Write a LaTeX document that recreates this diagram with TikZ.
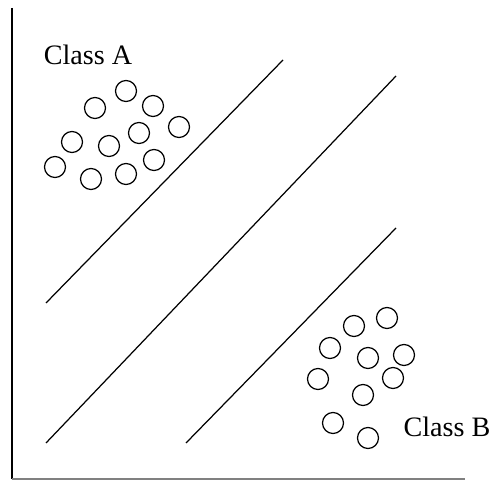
\documentclass[tikz,border=0pt]{standalone}
\usepackage{fontspec}
\setmainfont{Liberation Serif}

\tikzset{
  sample/.style={circle,draw,line width=0.7pt,minimum size=0.42cm,inner sep=0pt},
  classlabel/.style={font=\fontsize{16}{19}\selectfont}
}

\begin{document}
\begin{tikzpicture}
  \useasboundingbox (-0.24,-0.04) rectangle (9.64,9.58);
  % axes
  \draw[line width=0.7pt] (0,9.42) -- (0,0);
  \draw[line width=0.7pt,color=gray] (0,0) -- (9.06,0);

  % separating lines
  \draw[line width=0.7pt] (0.68,3.52) -- (5.42,8.38);
  \draw[line width=0.7pt] (0.68,0.72) -- (7.68,8.06);
  \draw[line width=0.7pt] (3.48,0.72) -- (7.68,5.02);

  % class A samples
  \foreach \p [count=\i] in {(1.66,7.42),(2.28,7.76),(2.82,7.46),(3.34,7.04),
      (2.54,6.92),(1.94,6.66),(1.20,6.74),(0.86,6.24),(1.58,6.00),(2.28,6.10),(2.84,6.38)}
    \node[sample] (a\i) at \p {};
  \node[classlabel] (labA) at (1.52,8.48) {Class A};

  % class B samples
  \foreach \p [count=\i] in {(6.84,3.06),(7.50,3.22),(6.36,2.62),(7.12,2.42),(7.84,2.48),
      (6.12,2.00),(7.62,2.02),(7.02,1.68),(6.42,1.12),(7.12,0.82)}
    \node[sample] (b\i) at \p {};
  \node[classlabel] (labB) at (8.70,1.04) {Class B};
\end{tikzpicture}
\end{document}
